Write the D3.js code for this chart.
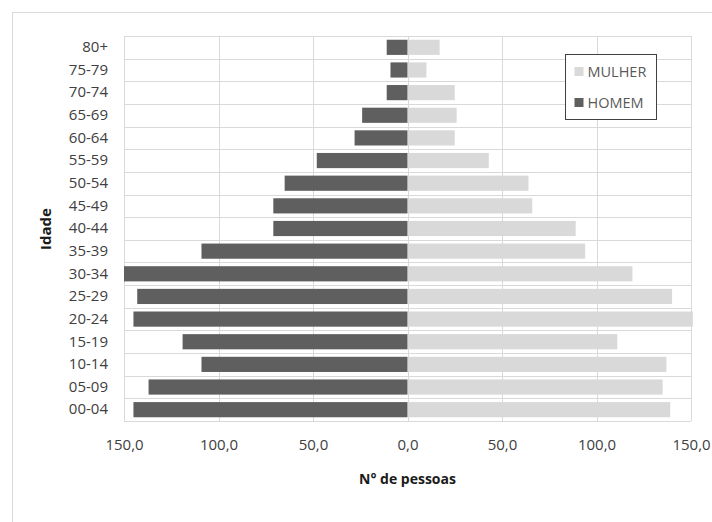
<!DOCTYPE html>
<html>
<head>
<meta charset="utf-8">
<script src="https://cdn.jsdelivr.net/npm/d3@7"></script>
<style>
  html, body { margin: 0; padding: 0; background: #fff; }
  svg { display: block; font-family: "Open Sans", "Segoe UI", sans-serif; }
</style>
</head>
<body>
<svg id="chart" width="712" height="522"></svg>
<script>
// Age groups, from youngest (bottom) to oldest (top)
const ageGroups = ["00-04","05-09","10-14","15-19","20-24","25-29","30-34","35-39",
                   "40-44","45-49","50-54","55-59","60-64","65-69","70-74","75-79","80+"];
// Number of people per age group
const men   = [145,137,109,119,145,143,150,109,71,71,65,48,28,24,11,9,11];
const women = [139,135,137,111,151,140,119,94,89,66,64,43,25,26,25,10,17];
const xTicks = [-150,-100,-50,0,50,100,150];
const seriesNames = ["MULHER","HOMEM"];
const seriesColors = ["#d9d9d9","#5f5f5f"];

const svg = d3.select("#chart");
const plot = { left: 124, right: 691, top: 36, bottom: 421 };

// outer chart frame
svg.append("rect")
  .attr("x", 12.5).attr("y", 12.5).attr("width", 720).attr("height", 520)
  .attr("fill", "#fff").attr("stroke", "#d9d9d9");

const x = d3.scaleLinear().domain([-150, 150]).range([plot.left, plot.right]);
const y = d3.scaleBand().domain(ageGroups.slice().reverse())
  .range([plot.top, plot.bottom]).paddingInner(0.33).paddingOuter(0.165);

const grid = svg.append("g").attr("stroke", "#d9d9d9").attr("stroke-width", 1);
// vertical gridlines
grid.selectAll("line.v").data(xTicks).join("line")
  .attr("class", "v")
  .attr("x1", d => Math.round(x(d)) + 0.5).attr("x2", d => Math.round(x(d)) + 0.5)
  .attr("y1", plot.top).attr("y2", plot.bottom);
// horizontal lines between age groups
const step = y.step();
const bounds = d3.range(ageGroups.length + 1).map(i => plot.top + i * (plot.bottom - plot.top) / ageGroups.length);
grid.selectAll("line.h").data(bounds).join("line")
  .attr("class", "h")
  .attr("x1", plot.left).attr("x2", plot.right)
  .attr("y1", d => Math.round(d) + 0.5).attr("y2", d => Math.round(d) + 0.5);

// bars
const bars = svg.append("g");
bars.selectAll("rect.m").data(ageGroups).join("rect")
  .attr("class", "m")
  .attr("x", (d, i) => x(-men[i]))
  .attr("width", (d, i) => x(0) - x(-men[i]))
  .attr("y", d => y(d)).attr("height", y.bandwidth())
  .attr("fill", seriesColors[1]);
bars.selectAll("rect.w").data(ageGroups).join("rect")
  .attr("class", "w")
  .attr("x", x(0) + 1)
  .attr("width", (d, i) => x(women[i]) - x(0) - 1)
  .attr("y", d => y(d)).attr("height", y.bandwidth())
  .attr("fill", seriesColors[0]);

// category labels
const yAxis = d3.axisLeft(y).tickSize(0).tickPadding(0);
svg.append("g").attr("transform", `translate(108,0)`).call(yAxis)
  .call(g => g.select(".domain").remove())
  .call(g => g.selectAll("text").attr("font-size", 15).attr("fill", "#404040")
    .attr("font-family", "'Open Sans', sans-serif"));

// value axis
const fmt = v => d3.format(".1f")(Math.abs(v)).replace(".", ",");
const xAxis = d3.axisBottom(x).tickValues(xTicks).tickFormat(fmt).tickSize(0).tickPadding(0);
svg.append("g").attr("transform", `translate(0,439)`).call(xAxis)
  .call(g => g.select(".domain").remove())
  .call(g => g.selectAll("text").attr("font-size", 15).attr("fill", "#404040")
    .attr("font-family", "'Open Sans', sans-serif"));

// axis titles
svg.append("text")
  .attr("x", x(0)).attr("y", 484)
  .attr("text-anchor", "middle").attr("font-size", 14).attr("font-weight", "bold")
  .attr("fill", "#1a1a1a").text("N° de pessoas");
svg.append("text")
  .attr("transform", `translate(51,229) rotate(-90)`)
  .attr("text-anchor", "middle").attr("font-size", 15).attr("font-weight", "bold")
  .attr("fill", "#1a1a1a").text("Idade");

// legend
const legend = svg.append("g").attr("transform", "translate(565.5,54.5)");
legend.append("rect").attr("width", 91).attr("height", 65)
  .attr("fill", "#fff").attr("stroke", "#404040");
const items = legend.selectAll("g.item").data(seriesNames).join("g")
  .attr("class", "item")
  .attr("transform", (d, i) => `translate(9,${17 + i * 31})`);
items.append("rect").attr("x", 0).attr("y", -4.5).attr("width", 9).attr("height", 9)
  .attr("fill", (d, i) => seriesColors[i]);
items.append("text").attr("x", 13).attr("y", 0).attr("dy", "0.35em")
  .attr("font-size", 14.5).attr("fill", "#595959").text(d => d);
</script>
</body>
</html>
